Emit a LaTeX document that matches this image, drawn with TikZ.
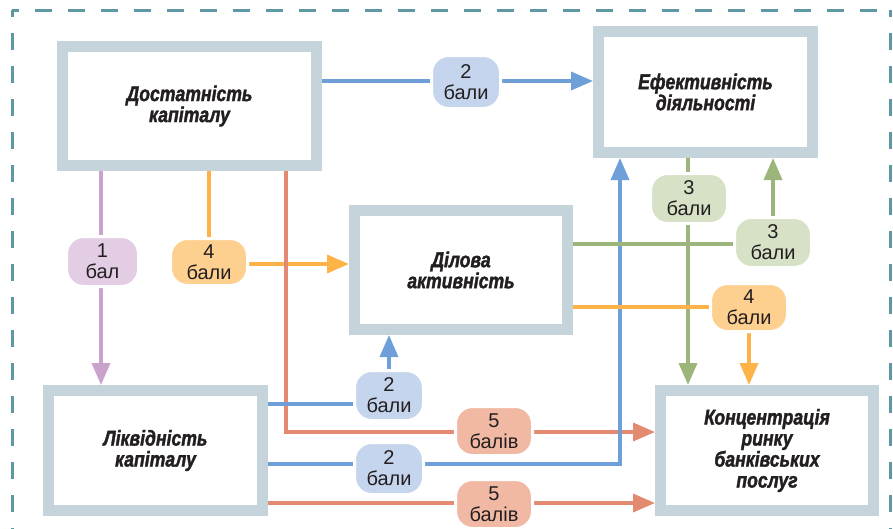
\documentclass[tikz,border=0pt]{standalone}
\usepackage{fontspec}
\setmainfont{Liberation Sans}
\newfontface\boxfont{Liberation Sans Bold Italic}[FakeStretch=0.82,FakeBold=1.6]
\usetikzlibrary{arrows.meta}
\definecolor{boxc}{HTML}{C5D4DA}
\definecolor{dashc}{HTML}{5E98A4}
\definecolor{txt}{HTML}{231F20}
\definecolor{blueL}{HTML}{6E9FD8}\definecolor{blueP}{HTML}{C6D5EE}
\definecolor{purL}{HTML}{C9A3CC}\definecolor{purP}{HTML}{E2CDE5}
\definecolor{orL}{HTML}{FDB347}\definecolor{orP}{HTML}{FDD08F}
\definecolor{grL}{HTML}{9BB57A}\definecolor{grP}{HTML}{D6E1C6}
\definecolor{rdL}{HTML}{E38A70}\definecolor{rdP}{HTML}{F1B9A4}
\tikzset{
  bigbox/.style={draw=boxc, line width=11pt, fill=white, inner sep=0pt, align=center,
    text=txt, font=\boxfont\fontsize{21.5}{21}\selectfont},
  pill/.style={draw=white, line width=3pt, rounded corners=17pt, inner sep=0pt, align=center,
    text=txt, font=\fontsize{20}{21}\selectfont},
  conn/.style={line width=3.5pt},
  tip/.style={-{Triangle[length=22pt,width=18pt]}},
  border/.style={draw=dashc, line width=3pt, dash pattern=on 17pt off 16pt, dash phase=10pt}
}
\begin{document}
\begin{tikzpicture}[x=1pt,y=-1pt]
\useasboundingbox[fill=white] (0,0) rectangle (893,528);
\draw[border] (12,10) -- (12,540);
\draw[border] (12,10) -- (890,10);
\draw[border] (890,10) -- (890,540);

% boxes
\node[bigbox, minimum width=254pt, minimum height=119pt] (A) at (189.5,106) {Достатність\\капіталу};
\node[bigbox, minimum width=214pt, minimum height=121pt] (E) at (705.5,92) {Ефективність\\діяльності};
\node[bigbox, minimum width=213pt, minimum height=119pt] (D) at (461,270) {Ділова\\активність};
\node[bigbox, minimum width=214pt, minimum height=120pt] (L) at (155.5,450.5) {Ліквідність\\капіталу};
\node[bigbox, minimum width=213pt, minimum height=120pt] (K) at (767,450.5) {Концентрація\\ринку\\банківських\\послуг};

% corner coordinates
\coordinate (c1) at (466,81);
\coordinate (c2) at (101,262);
\coordinate (c3) at (209,264);
\coordinate (c4) at (286,432);
\coordinate (c5) at (389,404);
\coordinate (c6) at (620,464);
\coordinate (c7) at (494,503);
\coordinate (c8) at (688,199);
\coordinate (c9) at (773,244);
\coordinate (c10) at (749,307);

% connectors
\draw[conn, blueL, tip] (c1 -| A.east) -- (c1 -| E.west);
\draw[conn, purL, tip] (c2 |- A.south) -- (c2 |- L.north);
\draw[conn, orL, tip] (c3 |- A.south) -- (c3) -- (c3 -| D.west);
\draw[conn, rdL, tip] (c4 |- A.south) -- (c4) -- (c4 -| K.west);
\draw[conn, blueL, tip] (c5 -| L.east) -- (c5) -- (c5 |- D.south);
\draw[conn, blueL, tip] (c6 -| L.east) -- (c6) -- (c6 |- E.south);
\draw[conn, rdL, tip] (c7 -| L.east) -- (c7 -| K.west);
\draw[conn, grL, tip] (c8 |- E.south) -- (c8 |- K.north);
\draw[conn, grL, tip] (c9 -| D.east) -- (c9) -- (c9 |- E.south);
\draw[conn, orL, tip] (c10 -| D.east) -- (c10) -- (c10 |- K.north);

% labels
\node[pill, fill=blueP, minimum width=69pt, minimum height=53pt] (P1) at (466,82) {2\\бали};
\node[pill, fill=purP, minimum width=72pt, minimum height=50pt] (P2) at (102.5,261.5) {1\\бал};
\node[pill, fill=orP, minimum width=77pt, minimum height=47pt] (P3) at (209,262) {4\\бали};
\node[pill, fill=rdP, minimum width=77pt, minimum height=49pt] (P4) at (494,431) {5\\балів};
\node[pill, fill=blueP, minimum width=69pt, minimum height=50pt] (P5) at (389,395.5) {2\\бали};
\node[pill, fill=blueP, minimum width=69pt, minimum height=52pt] (P6) at (389,468.5) {2\\бали};
\node[pill, fill=rdP, minimum width=77pt, minimum height=49pt] (P7) at (494,504) {5\\балів};
\node[pill, fill=grP, minimum width=77pt, minimum height=50pt] (P8) at (689,198.5) {3\\бали};
\node[pill, fill=grP, minimum width=77pt, minimum height=50pt] (P9) at (773,242.5) {3\\бали};
\node[pill, fill=orP, minimum width=77pt, minimum height=48pt] (P10) at (749,307.5) {4\\бали};
\end{tikzpicture}
\end{document}
